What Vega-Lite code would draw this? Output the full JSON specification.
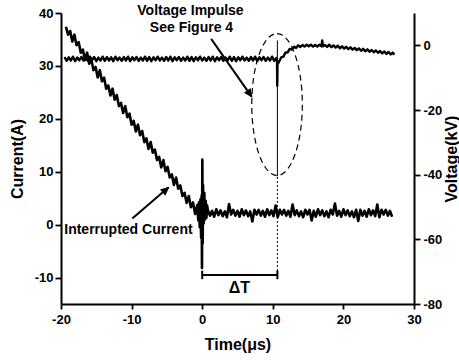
{
 "$schema": "https://vega.github.io/schema/vega-lite/v6.json",
 "width": 353, "height": 291,
 "autosize": "none",
 "padding": {"left": 61, "top": 13, "right": 45, "bottom": 56},
 "background": "white",
 "config": {
  "view": {"stroke": null},
  "font": "Liberation Sans",
  "axis": {"domainColor": "black", "domainWidth": 2, "tickColor": "black", "tickWidth": 1.8, "labelColor": "black", "labelFont": "Liberation Sans", "labelFontSize": 13, "labelFontWeight": "bold", "titleFont": "Liberation Sans", "titleFontSize": 16, "titleFontWeight": "bold", "titleColor": "black", "grid": false, "labelOverlap": false, "labelFlush": false}
 },
 "datasets": {
  "current": [
   {"t":-19.3,"i":37.4},{"t":-19.0,"i":35.9},{"t":-18.7,"i":36.6},{"t":-18.4,"i":34.6},{"t":-18.1,"i":35.9},{"t":-17.8,"i":33.9},{"t":-17.5,"i":34.5},{"t":-17.2,"i":32.5},{"t":-16.9,"i":33.1},{"t":-16.6,"i":31.1},
   {"t":-16.3,"i":32.5},{"t":-16.0,"i":30.4},{"t":-15.7,"i":31.2},{"t":-15.4,"i":29.2},{"t":-15.1,"i":29.8},{"t":-14.8,"i":27.8},{"t":-14.5,"i":29.2},{"t":-14.2,"i":27.1},{"t":-13.9,"i":27.8},{"t":-13.6,"i":25.7},
   {"t":-13.3,"i":26.3},{"t":-13.0,"i":24.4},{"t":-12.7,"i":25.7},{"t":-12.4,"i":23.6},{"t":-12.1,"i":24.5},{"t":-11.8,"i":22.4},{"t":-11.5,"i":23.0},{"t":-11.2,"i":21.1},{"t":-10.9,"i":22.4},{"t":-10.6,"i":20.3},
   {"t":-10.3,"i":21.0},{"t":-10.0,"i":18.9},{"t":-9.7,"i":19.6},{"t":-9.4,"i":17.6},{"t":-9.1,"i":18.9},{"t":-8.8,"i":16.9},{"t":-8.5,"i":17.7},{"t":-8.2,"i":15.6},{"t":-7.9,"i":16.3},{"t":-7.6,"i":14.3},
   {"t":-7.3,"i":15.6},{"t":-7.0,"i":13.6},{"t":-6.7,"i":14.2},{"t":-6.4,"i":12.2},{"t":-6.1,"i":12.8},{"t":-5.8,"i":10.8},{"t":-5.5,"i":12.2},{"t":-5.2,"i":10.1},{"t":-4.9,"i":10.9},{"t":-4.6,"i":8.9},
   {"t":-4.3,"i":9.5},{"t":-4.0,"i":7.5},{"t":-3.7,"i":8.9},{"t":-3.4,"i":6.8},{"t":-3.1,"i":7.4},{"t":-2.8,"i":5.4},{"t":-2.5,"i":6.0},{"t":-2.2,"i":4.1},{"t":-1.9,"i":5.4},{"t":-1.6,"i":3.3},
   {"t":-1.3,"i":4.2},{"t":-1.0,"i":2.0},{"t":-0.7,"i":3.7},
   {"t":-0.55,"i":0.8},{"t":-0.45,"i":4.2},{"t":-0.35,"i":-0.5},{"t":-0.25,"i":4.8},{"t":-0.15,"i":-2.5},{"t":-0.08,"i":5.5},{"t":-0.03,"i":-8.2},{"t":0.02,"i":12.3},{"t":0.07,"i":-3.5},{"t":0.12,"i":7.5},
   {"t":0.2,"i":0.2},{"t":0.3,"i":6.0},{"t":0.4,"i":1.0},{"t":0.5,"i":4.5},{"t":0.6,"i":1.3},{"t":0.7,"i":3.6},
   {"t":0.8,"i":2.8},{"t":1.1,"i":1.7},{"t":1.4,"i":2.6},{"t":1.7,"i":1.5},{"t":2.0,"i":2.9},{"t":2.3,"i":1.8},{"t":2.6,"i":2.7},{"t":2.9,"i":1.6},{"t":3.2,"i":2.5},{"t":3.5,"i":1.4},
   {"t":3.8,"i":3.9},{"t":4.1,"i":1.9},{"t":4.4,"i":2.8},{"t":4.7,"i":1.7},{"t":5.0,"i":2.6},{"t":5.3,"i":1.5},{"t":5.6,"i":2.9},{"t":5.9,"i":1.8},{"t":6.2,"i":2.7},{"t":6.5,"i":1.6},
   {"t":6.8,"i":2.5},{"t":7.1,"i":0.6},{"t":7.4,"i":2.8},{"t":7.7,"i":1.9},{"t":8.0,"i":2.8},{"t":8.3,"i":1.7},{"t":8.6,"i":2.6},{"t":8.9,"i":1.5},{"t":9.2,"i":2.9},{"t":9.5,"i":1.8},
   {"t":9.8,"i":2.7},{"t":10.1,"i":1.6},{"t":10.4,"i":3.6},{"t":10.7,"i":1.4},{"t":11.0,"i":2.8},{"t":11.3,"i":1.9},{"t":11.6,"i":2.8},{"t":11.9,"i":1.7},{"t":12.2,"i":2.6},{"t":12.5,"i":1.5},
   {"t":12.8,"i":3.8},{"t":13.1,"i":1.8},{"t":13.4,"i":2.7},{"t":13.7,"i":1.6},{"t":14.0,"i":2.5},{"t":14.3,"i":1.4},{"t":14.6,"i":2.8},{"t":14.9,"i":1.9},{"t":15.2,"i":2.8},{"t":15.5,"i":0.8},
   {"t":15.8,"i":2.6},{"t":16.1,"i":1.5},{"t":16.4,"i":2.9},{"t":16.7,"i":1.8},{"t":17.0,"i":2.7},{"t":17.3,"i":1.6},{"t":17.6,"i":2.5},{"t":17.9,"i":1.4},{"t":18.2,"i":2.8},{"t":18.5,"i":1.9},
   {"t":18.8,"i":4.0},{"t":19.1,"i":1.7},{"t":19.4,"i":2.6},{"t":19.7,"i":1.5},{"t":20.0,"i":2.9},{"t":20.3,"i":1.8},{"t":20.6,"i":2.7},{"t":20.9,"i":1.6},{"t":21.2,"i":2.5},{"t":21.5,"i":1.4},
   {"t":21.8,"i":2.8},{"t":22.1,"i":0.7},{"t":22.4,"i":2.8},{"t":22.7,"i":1.7},{"t":23.0,"i":2.6},{"t":23.3,"i":1.5},{"t":23.6,"i":2.9},{"t":23.9,"i":1.8},{"t":24.2,"i":2.7},{"t":24.5,"i":1.6},
   {"t":24.8,"i":3.8},{"t":25.1,"i":1.4},{"t":25.4,"i":2.8},{"t":25.7,"i":1.9},{"t":26.0,"i":2.8},{"t":26.3,"i":1.7},{"t":26.6,"i":2.6},{"t":26.9,"i":1.5}
  ],
  "voltage": [
   {"t":-19.5,"v":-3.6},{"t":-19.2,"v":-4.8},{"t":-18.9,"v":-3.7},{"t":-18.6,"v":-4.7},{"t":-18.3,"v":-3.5},{"t":-18.0,"v":-4.9},{"t":-17.7,"v":-3.8},{"t":-17.4,"v":-4.6},{"t":-17.1,"v":-3.6},{"t":-16.8,"v":-4.7},
   {"t":-16.5,"v":-3.7},{"t":-16.2,"v":-4.8},{"t":-15.9,"v":-3.5},{"t":-15.6,"v":-4.6},{"t":-15.3,"v":-3.6},{"t":-15.0,"v":-4.9},{"t":-14.7,"v":-3.8},{"t":-14.4,"v":-4.7},{"t":-14.1,"v":-3.5},{"t":-13.8,"v":-4.8},
   {"t":-13.5,"v":-3.6},{"t":-13.2,"v":-4.7},{"t":-12.9,"v":-3.7},{"t":-12.6,"v":-4.9},{"t":-12.3,"v":-3.5},{"t":-12.0,"v":-4.6},{"t":-11.7,"v":-3.8},{"t":-11.4,"v":-4.8},{"t":-11.1,"v":-3.6},{"t":-10.8,"v":-4.7},
   {"t":-10.5,"v":-3.5},{"t":-10.2,"v":-4.9},{"t":-9.9,"v":-3.7},{"t":-9.6,"v":-4.6},{"t":-9.3,"v":-3.6},{"t":-9.0,"v":-4.8},{"t":-8.7,"v":-3.8},{"t":-8.4,"v":-4.7},{"t":-8.1,"v":-3.5},{"t":-7.8,"v":-4.8},
   {"t":-7.5,"v":-3.6},{"t":-7.2,"v":-4.9},{"t":-6.9,"v":-3.7},{"t":-6.6,"v":-4.6},{"t":-6.3,"v":-3.5},{"t":-6.0,"v":-4.7},{"t":-5.7,"v":-3.8},{"t":-5.4,"v":-4.8},{"t":-5.1,"v":-3.6},{"t":-4.8,"v":-4.7},
   {"t":-4.5,"v":-3.5},{"t":-4.2,"v":-4.9},{"t":-3.9,"v":-3.7},{"t":-3.6,"v":-4.6},{"t":-3.3,"v":-3.6},{"t":-3.0,"v":-4.8},{"t":-2.7,"v":-3.8},{"t":-2.4,"v":-4.7},{"t":-2.1,"v":-3.5},{"t":-1.8,"v":-4.8},
   {"t":-1.5,"v":-3.6},{"t":-1.2,"v":-4.9},{"t":-0.9,"v":-3.7},{"t":-0.6,"v":-4.6},{"t":-0.3,"v":-3.5},{"t":0.0,"v":-4.7},{"t":0.3,"v":-3.8},{"t":0.6,"v":-4.8},{"t":0.9,"v":-3.6},{"t":1.2,"v":-4.7},
   {"t":1.5,"v":-3.5},{"t":1.8,"v":-4.9},{"t":2.1,"v":-3.7},{"t":2.4,"v":-4.6},{"t":2.7,"v":-3.6},{"t":3.0,"v":-4.8},{"t":3.3,"v":-3.8},{"t":3.6,"v":-4.7},{"t":3.9,"v":-3.5},{"t":4.2,"v":-4.8},
   {"t":4.5,"v":-3.6},{"t":4.8,"v":-4.9},{"t":5.1,"v":-3.7},{"t":5.4,"v":-4.6},{"t":5.7,"v":-3.5},{"t":6.0,"v":-4.7},{"t":6.3,"v":-3.8},{"t":6.6,"v":-4.8},{"t":6.9,"v":-3.6},{"t":7.2,"v":-4.7},
   {"t":7.5,"v":-3.5},{"t":7.8,"v":-4.9},{"t":8.1,"v":-3.7},{"t":8.4,"v":-4.6},{"t":8.7,"v":-3.6},{"t":9.0,"v":-4.8},{"t":9.3,"v":-3.8},{"t":9.6,"v":-4.7},{"t":9.9,"v":-3.5},{"t":10.2,"v":-4.8},
   {"t":10.5,"v":-3.9},{"t":10.6,"v":-5.0},{"t":10.63,"v":-12.5},{"t":10.66,"v":-6.0},{"t":10.7,"v":-5.8},
   {"t":10.9,"v":-5.0},{"t":11.2,"v":-3.7},{"t":11.5,"v":-3.5},{"t":11.8,"v":-2.2},{"t":12.1,"v":-2.2},{"t":12.4,"v":-1.1},{"t":12.7,"v":-1.3},{"t":13.0,"v":-0.4},{"t":13.3,"v":-0.8},{"t":13.6,"v":0.0},
   {"t":13.9,"v":-0.5},{"t":14.2,"v":0.1},{"t":14.5,"v":-0.4},{"t":14.8,"v":0.2},{"t":15.1,"v":-0.3},{"t":15.4,"v":0.2},{"t":15.7,"v":-0.4},{"t":16.0,"v":0.1},{"t":16.3,"v":-0.4},{"t":16.6,"v":0.2},
   {"t":16.9,"v":-0.3},{"t":17.0,"v":1.5},{"t":17.1,"v":-0.3},{"t":17.4,"v":0.1},{"t":17.7,"v":-0.5},{"t":18.0,"v":0.2},{"t":18.3,"v":-0.55},{"t":18.6,"v":0.0},{"t":18.9,"v":-0.7},{"t":19.2,"v":-0.1},
   {"t":19.5,"v":-0.9},{"t":19.8,"v":-0.3},{"t":20.1,"v":-1.0},{"t":20.4,"v":-0.45},{"t":20.7,"v":-1.2},{"t":21.0,"v":-0.6},{"t":21.3,"v":-1.35},{"t":21.6,"v":-0.8},{"t":21.9,"v":-1.5},{"t":22.2,"v":-0.95},
   {"t":22.5,"v":-1.7},{"t":22.8,"v":-1.1},{"t":23.1,"v":-1.85},{"t":23.4,"v":-1.25},{"t":23.7,"v":-2.0},{"t":24.0,"v":-1.45},{"t":24.3,"v":-2.15},{"t":24.6,"v":-1.6},{"t":24.9,"v":-2.3},{"t":25.2,"v":-1.75},
   {"t":25.5,"v":-2.5},{"t":25.8,"v":-1.9},{"t":26.1,"v":-2.65},{"t":26.4,"v":-2.05},{"t":26.7,"v":-2.8},{"t":27.0,"v":-2.25},{"t":27.2,"v":-2.9}
  ]
 },
 "layer": [
  {
   "layer": [
    {
     "data": {"name": "current"},
     "mark": {"type": "line", "color": "black", "strokeWidth": 2.6, "strokeJoin": "round"},
     "encoding": {
      "x": {"field": "t", "type": "quantitative", "scale": {"domain": [-20, 30], "nice": false},
       "axis": {"title": "Time(μs)", "values": [-20,-15,-10,-5,0,5,10,15,20,25,30],
        "labelExpr": "datum.value % 10 === 0 ? '' + datum.value : ''",
        "tickSize": {"condition": {"test": "datum.value % 10 !== 0", "value": 3}, "value": 5},
        "labelPadding": 4, "titlePadding": 10}},
      "y": {"field": "i", "type": "quantitative", "scale": {"domain": [-15, 40], "nice": false},
       "axis": {"title": "Current(A)", "values": [-10,-5,0,5,10,15,20,25,30,35,40],
        "labelExpr": "datum.value % 10 === 0 ? '' + datum.value : ''",
        "tickSize": {"condition": {"test": "datum.value % 10 !== 0", "value": 3}, "value": 6},
        "labelPadding": 2, "titlePadding": 9}}
     }
    },
    {
     "data": {"values": [{}]},
     "mark": {"type": "rule", "color": "black", "strokeWidth": 2},
     "encoding": {"x": {"datum": 1.27, "type": "quantitative"}, "x2": {"datum": 7.0}, "y": {"datum": 35.1, "type": "quantitative"}, "y2": {"datum": 24.2}}
    },
    {
     "data": {"values": [{}]},
     "mark": {"type": "point", "shape": "M0,0L-0.45,1L0.45,1Z", "filled": true, "color": "black", "opacity": 1, "size": 324, "angle": 144.7},
     "encoding": {"x": {"datum": 7.12, "type": "quantitative"}, "y": {"datum": 24.0, "type": "quantitative"}}
    },
    {
     "data": {"values": [{}]},
     "mark": {"type": "rule", "color": "black", "strokeWidth": 2},
     "encoding": {"x": {"datum": -9.9, "type": "quantitative"}, "x2": {"datum": -4.8}, "y": {"datum": 1.14, "type": "quantitative"}, "y2": {"datum": 7.0}}
    },
    {
     "data": {"values": [{}]},
     "mark": {"type": "point", "shape": "M0,0L-0.45,1L0.45,1Z", "filled": true, "color": "black", "opacity": 1, "size": 324, "angle": 49.7},
     "encoding": {"x": {"datum": -4.63, "type": "quantitative"}, "y": {"datum": 7.16, "type": "quantitative"}}
    },
    {
     "data": {"values": [{}]},
     "mark": {"type": "point", "shape": "M0,-1C0.1966,-1,0.356,-0.5523,0.356,0C0.356,0.5523,0.1966,1,0,1C-0.1966,1,-0.356,0.5523,-0.356,0C-0.356,-0.5523,-0.1966,-1,0,-1Z", "filled": false, "color": "black", "opacity": 1, "strokeWidth": 1.2, "strokeDash": [6, 4], "size": 20164},
     "encoding": {"x": {"datum": 10.6, "type": "quantitative"}, "y": {"datum": 22.7, "type": "quantitative"}}
    },
    {
     "data": {"values": [{}]},
     "mark": {"type": "rule", "color": "black", "strokeWidth": 1, "strokeDash": [2, 2]},
     "encoding": {"x": {"datum": 10.65, "type": "quantitative"}, "y": {"datum": -9.52, "type": "quantitative"}, "y2": {"datum": 9.4}}
    },
    {
     "data": {"values": [{}]},
     "mark": {"type": "rule", "color": "black", "strokeWidth": 2.2},
     "encoding": {"x": {"datum": 0, "type": "quantitative"}, "x2": {"datum": 10.65}, "y": {"datum": -9.52, "type": "quantitative"}}
    },
    {
     "data": {"values": [{}]},
     "mark": {"type": "rule", "color": "black", "strokeWidth": 2},
     "encoding": {"x": {"datum": 0, "type": "quantitative"}, "y": {"datum": -10.3, "type": "quantitative"}, "y2": {"datum": -8.7}}
    },
    {
     "data": {"values": [{}]},
     "mark": {"type": "rule", "color": "black", "strokeWidth": 2},
     "encoding": {"x": {"datum": 10.65, "type": "quantitative"}, "y": {"datum": -10.3, "type": "quantitative"}, "y2": {"datum": -8.7}}
    },
    {
     "data": {"values": [{}]},
     "mark": {"type": "text", "text": "Voltage Impulse", "font": "Liberation Sans", "fontSize": 14, "fontWeight": "bold", "color": "black", "align": "center", "baseline": "alphabetic"},
     "encoding": {"x": {"datum": -1.66, "type": "quantitative"}, "y": {"datum": 39.7, "type": "quantitative"}}
    },
    {
     "data": {"values": [{}]},
     "mark": {"type": "text", "text": "See Figure 4", "font": "Liberation Sans", "fontSize": 14, "fontWeight": "bold", "color": "black", "align": "center", "baseline": "alphabetic"},
     "encoding": {"x": {"datum": -1.52, "type": "quantitative"}, "y": {"datum": 36.5, "type": "quantitative"}}
    },
    {
     "data": {"values": [{}]},
     "mark": {"type": "text", "text": "Interrupted Current", "font": "Liberation Sans", "fontSize": 14, "fontWeight": "bold", "color": "black", "align": "center", "baseline": "alphabetic"},
     "encoding": {"x": {"datum": -10.45, "type": "quantitative"}, "y": {"datum": -1.85, "type": "quantitative"}}
    },
    {
     "data": {"values": [{}]},
     "mark": {"type": "text", "text": "ΔT", "font": "Liberation Sans", "fontSize": 16, "fontWeight": "bold", "color": "black", "align": "center", "baseline": "alphabetic"},
     "encoding": {"x": {"datum": 5.28, "type": "quantitative"}, "y": {"datum": -12.95, "type": "quantitative"}}
    }
   ]
  },
  {
   "layer": [
    {
     "data": {"name": "voltage"},
     "mark": {"type": "line", "color": "black", "strokeWidth": 2.4, "strokeJoin": "round"},
     "encoding": {
      "x": {"field": "t", "type": "quantitative", "title": "Time(μs)", "scale": {"domain": [-20, 30], "nice": false}},
      "y": {"field": "v", "type": "quantitative", "scale": {"domain": [-80, 10], "nice": false},
       "axis": {"orient": "right", "title": "Voltage(kV)", "titleAngle": 270, "titleBaseline": "top", "values": [-80,-70,-60,-50,-40,-30,-20,-10,0,10],
        "labelExpr": "(datum.value % 20 === 0 && datum.value <= 0) ? '' + datum.value : ''",
        "tickSize": {"condition": {"test": "datum.value % 20 !== 0", "value": 3}, "value": 6},
        "labelPadding": 3, "titlePadding": 2}}
     }
    },
    {
     "data": {"values": [{}]},
     "mark": {"type": "rule", "color": "black", "strokeWidth": 1},
     "encoding": {"x": {"datum": 10.65, "type": "quantitative"}, "y": {"datum": 1.5, "type": "quantitative"}, "y2": {"datum": -40.5}}
    }
   ]
  }
 ],
 "resolve": {"scale": {"y": "independent"}}
}
